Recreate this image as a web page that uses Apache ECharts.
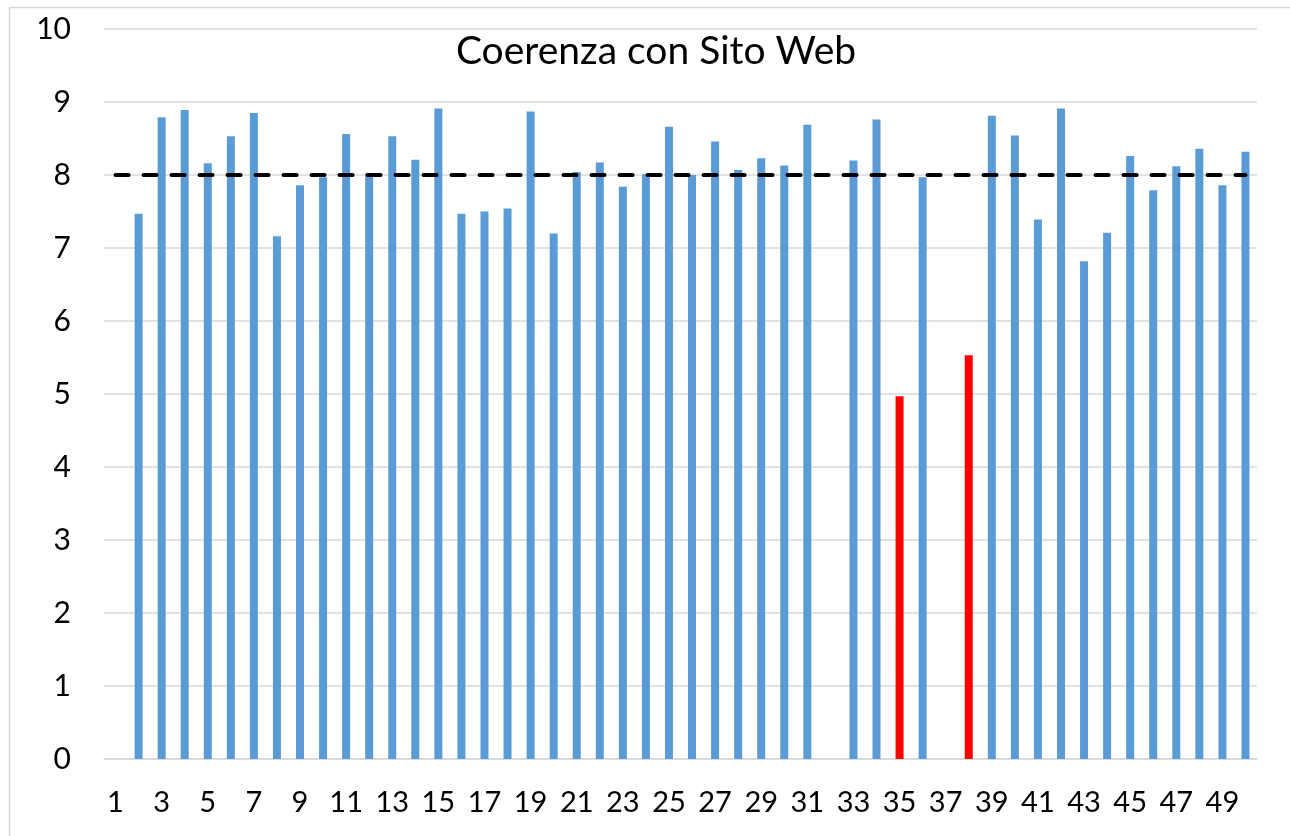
<!DOCTYPE html>
<html>
<head>
<meta charset="utf-8">
<script src="https://cdn.jsdelivr.net/npm/echarts@6/dist/echarts.min.js"></script>
<style>
  html, body { margin: 0; padding: 0; background: #fff; }
  #echart { width: 1290px; height: 836px; }
</style>
</head>
<body>
<div id="echart"></div>
<script>
    // categories 1..50, null = no bar
    var categories = ['1','2','3','4','5','6','7','8','9','10','11','12','13','14','15','16','17','18','19','20',
        '21','22','23','24','25','26','27','28','29','30','31','32','33','34','35','36','37','38','39','40',
        '41','42','43','44','45','46','47','48','49','50']
    var scores = [null, 7.47, 8.79, 8.89, 8.16, 8.53, 8.85, 7.16, 7.86, 7.97,
        8.56, 8.02, 8.53, 8.21, 8.91, 7.47, 7.50, 7.54, 8.87, 7.20,
        8.04, 8.17, 7.84, 8.01, 8.66, 8.00, 8.46, 8.07, 8.23, 8.13,
        8.69, null, 8.20, 8.76, 4.97, 7.97, null, 5.53, 8.81, 8.54,
        7.39, 8.91, 6.82, 7.21, 8.26, 7.79, 8.12, 8.36, 7.86, 8.32]
    var redCategories = ['35', '38']
    var threshold = 8
    var yTicks = [0, 10, 1]

    var barData = scores.map(function (v, i) {
        if (redCategories.indexOf(categories[i]) >= 0) {
            return { value: v, itemStyle: { color: '#FF0000' } }
        }
        return v
    })
    var lineData = categories.map(function () { return threshold })

    var myChart = echarts.init(document.getElementById('echart'))
    var font = 'Lato, "Open Sans", sans-serif'
    var option = {
        animation: false,
        backgroundColor: '#fff',
        title: {
            text: 'Coerenza con Sito Web',
            left: 651,
            textAlign: 'center',
            top: 27,
            textStyle: { fontFamily: font, fontSize: 39, fontWeight: 'normal', color: '#000' }
        },
        grid: { left: 104, right: 33, top: 29, bottom: 77 },
        xAxis: {
            type: 'category',
            data: categories,
            axisLine: { lineStyle: { color: '#D9D9D9', width: 1.5 } },
            axisTick: { show: false },
            axisLabel: { interval: 1, color: '#000', fontFamily: font, fontSize: 29, margin: 29 }
        },
        yAxis: {
            type: 'value',
            min: yTicks[0],
            max: yTicks[1],
            interval: yTicks[2],
            axisLine: { show: false },
            axisTick: { show: false },
            splitLine: { lineStyle: { color: '#D9D9D9', width: 1.5 } },
            axisLabel: { color: '#000', fontFamily: font, fontSize: 30, margin: 33 }
        },
        graphic: [{
            type: 'rect',
            shape: { x: 9.5, y: 7.5, width: 1400, height: 1000 },
            style: { fill: 'none', stroke: '#D9D9D9', lineWidth: 1.5 },
            silent: true
        }],
        series: [{
            type: 'bar',
            data: barData,
            barWidth: 8,
            itemStyle: { color: '#5B9BD5' }
        }, {
            type: 'line',
            data: lineData,
            showSymbol: false,
            symbol: 'none',
            z: 5,
            lineStyle: { color: '#000', width: 4, type: [13, 15], cap: 'round' }
        }]
    }
    myChart.setOption(option, true)
</script>
</body>
</html>
